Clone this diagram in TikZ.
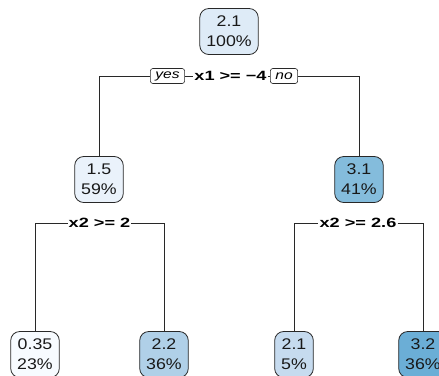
\documentclass[tikz,border=0pt]{standalone}
\usepackage{fontspec}
\setmainfont{Liberation Sans}
\newfontfamily\nodefont{Liberation Sans}[FakeStretch=1.15]
\newfontfamily\labfont{Liberation Sans}[FakeStretch=1.35]
\newfontfamily\ynfont{Liberation Sans}[FakeStretch=1.25]
\definecolor{c035}{RGB}{247,251,255}
\definecolor{c15}{RGB}{234,242,251}
\definecolor{c21a}{RGB}{222,235,247}
\definecolor{c21b}{RGB}{198,219,239}
\definecolor{c22}{RGB}{176,208,232}
\definecolor{c31}{RGB}{132,188,220}
\definecolor{c32}{RGB}{107,174,214}
\definecolor{edge}{RGB}{40,40,40}
\begin{document}
\begin{tikzpicture}[x=1bp,y=-1bp,
  treenode/.style={draw=edge, rounded corners=9bp, line width=0.8bp, align=center,
    minimum height=46bp, inner xsep=6.5bp, inner ysep=3bp,
    font=\nodefont\fontsize{15.5}{20}\selectfont, text=black!90},
  splitlab/.style={font=\labfont\fontsize{13.5}{15}\bfseries\selectfont, inner xsep=1bp, inner ysep=1bp, fill=white},
  yesno/.style={draw=edge, rounded corners=2.5bp, line width=0.6bp,
    font=\ynfont\fontsize{12.5}{14}\itshape\selectfont, inner xsep=5bp, inner ysep=1.5bp, fill=white,
    minimum height=15bp},
  conn/.style={draw=edge, line width=0.7bp}]
\useasboundingbox (0,0) rectangle (439,375);
% nodes
\node[treenode, fill=c21a] (root) at (229,31.5) {2.1\\100\%};
\node[treenode, fill=c15] (n15) at (99,179.5) {1.5\\59\%};
\node[treenode, fill=c31] (n31) at (359,179.5) {3.1\\41\%};
\node[treenode, fill=c035] (n035) at (35,354.5) {0.35\\23\%};
\node[treenode, fill=c22] (n22) at (164,354.5) {2.2\\36\%};
\node[treenode, fill=c21b] (n21) at (294,354.5) {2.1\\5\%};
\node[treenode, fill=c32] (n32) at (423,354.5) {3.2\\36\%};
% split labels
\node[splitlab] (s1) at (230.5,76) {x1 >= −4};
\node[yesno] (yes) at (167.5,76) {yes};
\node[yesno] (no) at (284,76) {no};
\node[splitlab] (s2) at (99.5,223) {x2 >= 2};
\node[splitlab] (s3) at (358,223) {x2 >= 2.6};
% connectors
\draw[conn] (n15.north) |- (yes.west);
\draw[conn] (yes.east) -- (s1.west);
\draw[conn] (s1.east) -- (no.west);
\draw[conn] (no.east) -| (n31.north);
\draw[conn] (n035.north) |- (s2.west);
\draw[conn] (s2.east) -| (n22.north);
\draw[conn] (n21.north) |- (s3.west);
\draw[conn] (s3.east) -| (n32.north);
\end{tikzpicture}
\end{document}
